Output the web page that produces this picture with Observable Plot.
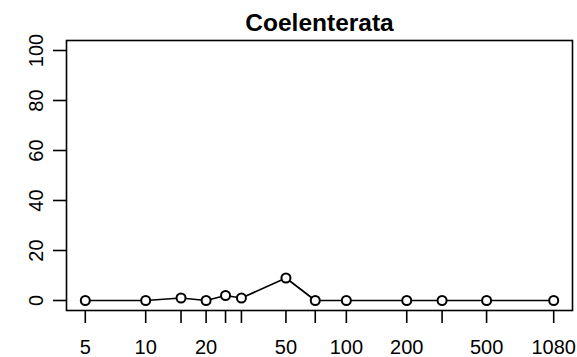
<!DOCTYPE html>
<html>
<head>
<meta charset="utf-8">
<script src="https://cdn.jsdelivr.net/npm/d3@7"></script>
<script src="https://cdn.jsdelivr.net/npm/@observablehq/plot@0.6"></script>
<style>
  html, body { margin: 0; padding: 0; background: #fff; }
  svg { display: block; }
</style>
</head>
<body>
<div id="chart"></div>
<script>
const title = "Coelenterata";
const sizes = [5, 10, 15, 20, 25, 30, 50, 70, 100, 200, 300, 500, 1080];
const values = [0, 0, 1, 0, 2, 1, 9, 0, 0, 0, 0, 0, 0];
const xTickLabels = [5, 10, 20, 50, 100, 200, 500, 1080];
const yTicks = [0, 20, 40, 60, 80, 100];

const data = sizes.map((s, i) => ({size: s, value: values[i]}));
const font = "'Liberation Sans', Arial, Helvetica, sans-serif";

const chart = Plot.plot({
  width: 577,
  height: 357,
  marginLeft: 66,
  marginRight: 5,
  marginTop: 40,
  marginBottom: 47,
  style: {fontFamily: font, fontSize: "20px", background: "white", color: "black"},
  x: {type: "log", domain: [4.03, 1340]},
  y: {domain: [-4, 104]},
  marks: [
    Plot.frame({stroke: "black", strokeWidth: 1.6}),
    Plot.axisX(sizes, {tickSize: 13, text: null, label: null, strokeWidth: 1.6}),
    Plot.text(xTickLabels, {
      x: d => d,
      text: d => String(d),
      frameAnchor: "bottom",
      dy: 43,
      lineAnchor: "bottom",
      fontSize: 20,
      fill: "black"
    }),
    Plot.axisY(yTicks, {tickSize: 13, text: null, label: null, strokeWidth: 1.6}),
    Plot.text(yTicks, {
      y: d => d,
      text: d => String(d),
      frameAnchor: "left",
      dx: -24,
      rotate: -90,
      textAnchor: "middle",
      lineAnchor: "bottom",
      fontSize: 20,
      fill: "black"
    }),
    Plot.line(data, {x: "size", y: "value", stroke: "black", strokeWidth: 1.7}),
    Plot.dot(data, {x: "size", y: "value", r: 4.5, stroke: "black", strokeWidth: 2, fill: "white"}),
    Plot.text([title], {
      frameAnchor: "top",
      dy: -10,
      lineAnchor: "bottom",
      fontSize: 24.5,
      fontWeight: "bold",
      fill: "black"
    })
  ]
});

document.getElementById("chart").appendChild(chart);
</script>
</body>
</html>
